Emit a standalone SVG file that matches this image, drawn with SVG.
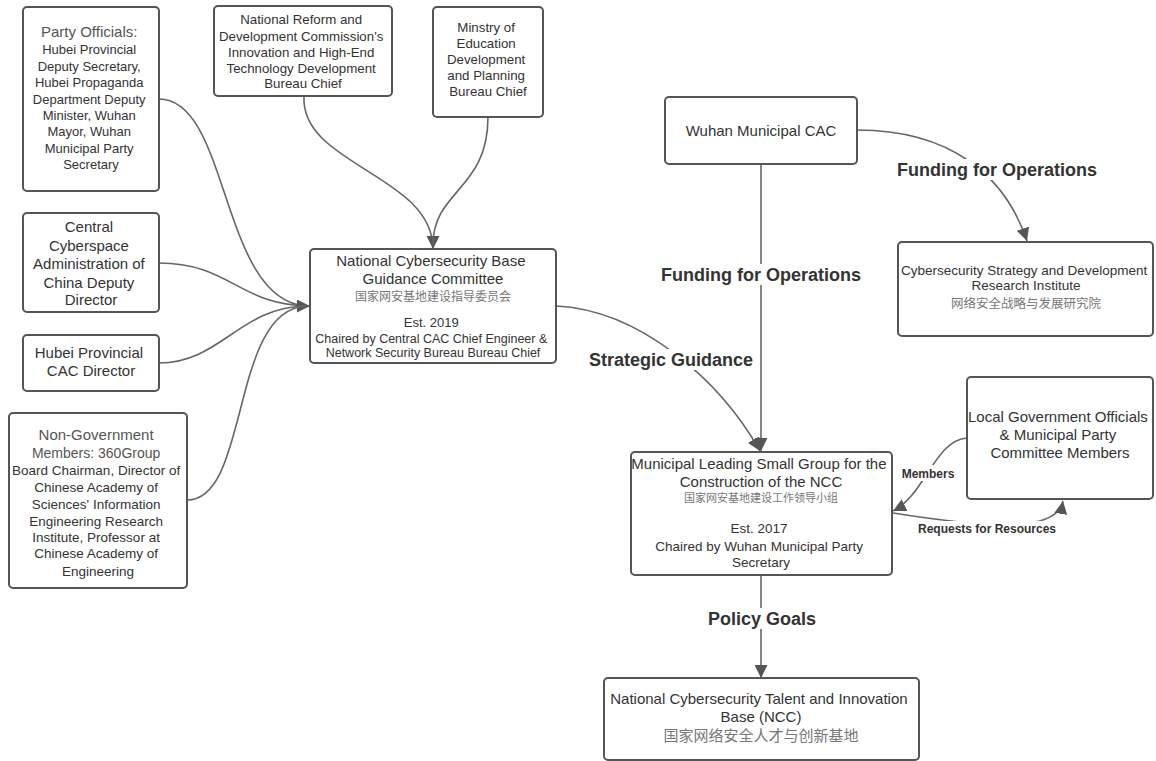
<svg xmlns="http://www.w3.org/2000/svg" width="1156" height="761" viewBox="0 0 1156 761">
<style>
.box{fill:#fff;stroke:#555;stroke-width:2}
.t{font-family:"Liberation Sans",Arial,sans-serif;fill:#333;text-anchor:middle}
.lt{fill:#555}
.cn{font-family:"Noto Sans CJK SC",sans-serif;fill:#777;text-anchor:middle}
.lbl{font-family:"Liberation Sans",Arial,sans-serif;font-weight:bold;fill:#333;text-anchor:middle}
.edge{fill:none;stroke:#666;stroke-width:1.6}
.bg{fill:#fff}
</style>
<defs>
<marker id="arr" viewBox="0 0 10 10" refX="10" refY="5" markerWidth="13" markerHeight="13" markerUnits="userSpaceOnUse" orient="auto">
<path d="M0,0 L10,5 L0,10 z" fill="#555"/>
</marker>
</defs>
<rect width="1156" height="761" fill="#fff"/>

<g id="connectors">
<path class="edge" d="M159,99 C230,99 220,300 306,306"/>
<path class="edge" d="M159,263 C230,263 240,306 310,306" marker-end="url(#arr)"/>
<path class="edge" d="M159,363 C220,363 240,307 306,306"/>
<path class="edge" d="M187,500 C250,500 230,310 306,306"/>
<path class="edge" d="M304,96 C300,165 433,175 433,249" marker-end="url(#arr)"/>
<path class="edge" d="M488,117 C488,190 433,190 433,245"/>
<path class="edge" d="M556,306 C640,310 720,380 760,451" marker-end="url(#arr)"/>
<path class="edge" d="M761,164 L761,451" marker-end="url(#arr)"/>
<path class="edge" d="M857,130 C950,130 1005,175 1027,241" marker-end="url(#arr)"/>
<path class="edge" d="M761,575 L761,678" marker-end="url(#arr)"/>
<path class="edge" d="M967,438 C935,440 925,495 893,511" marker-end="url(#arr)"/>
<path class="edge" d="M893,513 C1000,530 1058,530 1063,501" marker-end="url(#arr)"/>
<rect class="bg" x="586" y="349" width="170" height="21"/>
<text class="lbl" x="671" y="366" font-size="18">Strategic Guidance</text>
<rect class="bg" x="659" y="264" width="204" height="21"/>
<text class="lbl" x="761" y="281" font-size="18">Funding for Operations</text>
<rect class="bg" x="895" y="159" width="205" height="21"/>
<text class="lbl" x="997" y="176" font-size="18">Funding for Operations</text>
<rect class="bg" x="705" y="608" width="114" height="21"/>
<text class="lbl" x="762" y="625" font-size="18">Policy Goals</text>
<rect class="bg" x="900" y="465" width="57" height="16"/>
<text class="lbl" x="928" y="478" font-size="12">Members</text>
<rect class="bg" x="916" y="521" width="142" height="15"/>
<text class="lbl" x="987" y="533" font-size="12">Requests for Resources</text>
</g>

<g id="party-officials">
<rect class="box" x="23" y="7" width="136" height="184" rx="4"/>
<text class="t" font-size="13">
<tspan class="lt" x="91" y="37" font-size="15">Party Officials:</tspan>
<tspan x="91" y="54">Hubei Provincial</tspan>
<tspan x="91" y="71">Deputy Secretary,</tspan>
<tspan x="91" y="87">Hubei Propaganda</tspan>
<tspan x="91" y="104">Department Deputy</tspan>
<tspan x="91" y="120">Minister, Wuhan</tspan>
<tspan x="91" y="136">Mayor, Wuhan</tspan>
<tspan x="91" y="153">Municipal Party</tspan>
<tspan x="91" y="169">Secretary</tspan>
</text>
</g>

<g id="ndrc">
<rect class="box" x="214" y="6" width="178" height="90" rx="4"/>
<text class="t" font-size="13.3">
<tspan x="303" y="24">National Reform and</tspan>
<tspan x="303" y="41">Development Commission's</tspan>
<tspan x="303" y="57">Innovation and High-End</tspan>
<tspan x="303" y="73">Technology Development</tspan>
<tspan x="303" y="88">Bureau Chief</tspan>
</text>
</g>

<g id="ministry">
<rect class="box" x="433" y="7" width="110" height="110" rx="4"/>
<text class="t" font-size="13.3">
<tspan x="488" y="32">Minstry of</tspan>
<tspan x="488" y="48">Education</tspan>
<tspan x="488" y="64">Development</tspan>
<tspan x="488" y="80">and Planning</tspan>
<tspan x="488" y="96">Bureau Chief</tspan>
</text>
</g>

<g id="central-cac">
<rect class="box" x="23" y="213" width="136" height="99" rx="4"/>
<text class="t" font-size="15">
<tspan x="91" y="232">Central</tspan>
<tspan x="91" y="251">Cyberspace</tspan>
<tspan x="91" y="269">Administration of</tspan>
<tspan x="91" y="288">China Deputy</tspan>
<tspan x="91" y="305">Director</tspan>
</text>
</g>

<g id="hubei-cac">
<rect class="box" x="23" y="335" width="136" height="56" rx="4"/>
<text class="t" font-size="15">
<tspan x="91" y="358">Hubei Provincial</tspan>
<tspan x="91" y="376">CAC Director</tspan>
</text>
</g>

<g id="non-government">
<rect class="box" x="9" y="413" width="178" height="175" rx="4"/>
<text class="t" font-size="13.5">
<tspan class="lt" x="98" y="440" font-size="15">Non-Government</tspan>
<tspan class="lt" x="98" y="458" font-size="14">Members: 360Group</tspan>
<tspan x="98" y="475">Board Chairman, Director of</tspan>
<tspan x="98" y="492">Chinese Academy of</tspan>
<tspan x="98" y="509">Sciences' Information</tspan>
<tspan x="98" y="526">Engineering Research</tspan>
<tspan x="98" y="542">Institute, Professor at</tspan>
<tspan x="98" y="558">Chinese Academy of</tspan>
<tspan x="98" y="576">Engineering</tspan>
</text>
</g>

<g id="guidance-committee">
<rect class="box" x="310" y="249" width="246" height="114" rx="4"/>
<text class="t" font-size="15">
<tspan x="433" y="266">National Cybersecurity Base</tspan>
<tspan x="433" y="284">Guidance Committee</tspan>
</text>
<text class="cn" x="433" y="301" font-size="12">国家网安基地建设指导委员会</text>
<text class="t" font-size="12.5">
<tspan x="433" y="327" font-size="13">Est. 2019</tspan>
<tspan x="433" y="343">Chaired by Central CAC Chief Engineer &amp;</tspan>
<tspan x="433" y="357">Network Security Bureau Bureau Chief</tspan>
</text>
</g>

<g id="wuhan-cac">
<rect class="box" x="665" y="97" width="192" height="67" rx="4"/>
<text class="t" x="761" y="136" font-size="15">Wuhan Municipal CAC</text>
</g>

<g id="strategy-institute">
<rect class="box" x="898" y="242" width="255" height="94" rx="4"/>
<text class="t" font-size="13.5">
<tspan x="1026" y="275">Cybersecurity Strategy and Development</tspan>
<tspan x="1026" y="290">Research Institute</tspan>
</text>
<text class="cn" x="1026" y="308" font-size="12.5">网络安全战略与发展研究院</text>
</g>

<g id="local-government">
<rect class="box" x="967" y="377" width="186" height="122" rx="4"/>
<text class="t" font-size="15">
<tspan x="1060" y="422">Local Government Officials</tspan>
<tspan x="1060" y="440">&amp; Municipal Party</tspan>
<tspan x="1060" y="458">Committee Members</tspan>
</text>
</g>

<g id="leading-group">
<rect class="box" x="631" y="452" width="261" height="123" rx="4"/>
<text class="t" font-size="15">
<tspan x="761" y="469">Municipal Leading Small Group for the</tspan>
<tspan x="761" y="487">Construction of the NCC</tspan>
</text>
<text class="cn" x="761" y="502" font-size="11" fill="#888">国家网安基地建设工作领导小组</text>
<text class="t" font-size="13.5">
<tspan x="761" y="533">Est. 2017</tspan>
<tspan x="761" y="551">Chaired by Wuhan Municipal Party</tspan>
<tspan x="761" y="567">Secretary</tspan>
</text>
</g>

<g id="ncc">
<rect class="box" x="604" y="678" width="315" height="82" rx="4"/>
<text class="t" font-size="15">
<tspan x="761" y="704">National Cybersecurity Talent and Innovation</tspan>
<tspan x="761" y="722">Base (NCC)</tspan>
</text>
<text class="cn" x="761" y="741" font-size="15">国家网络安全人才与创新基地</text>
</g>
</svg>
